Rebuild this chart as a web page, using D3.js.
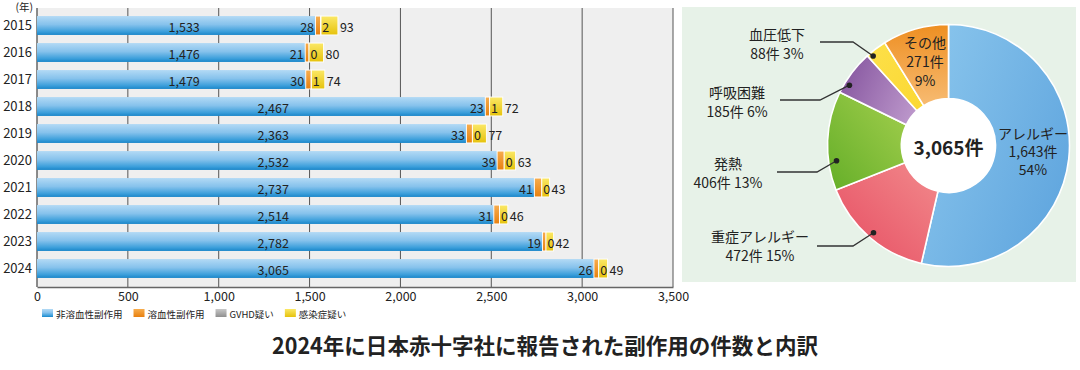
<!DOCTYPE html>
<html><head><meta charset="utf-8">
<script src="https://cdn.jsdelivr.net/npm/d3@7"></script>
<style>
body{margin:0;background:#fff}
svg{display:block}
text{font-family:"Noto Sans CJK JP","Noto Sans",sans-serif;fill:#222}
</style>
</head><body>
<svg id="c" width="1080" height="370"></svg>
<script>
// ---------- data ----------
const years = ["2015","2016","2017","2018","2019","2020","2021","2022","2023","2024"];
const nonHemolytic = [1533,1476,1479,2467,2363,2532,2737,2514,2782,3065];
const hemolytic    = [28,21,30,23,33,39,41,31,19,26];
const gvhd         = [2,0,1,1,0,0,0,0,0,0];
const infection    = [93,80,74,72,77,63,43,46,42,49];
const xTicks = [0,500,1000,1500,2000,2500,3000,3500];
const seriesNames = ["非溶血性副作用","溶血性副作用","GVHD疑い","感染症疑い"];
const yearUnit = "(年)";

const pieCategories = ["アレルギー","重症アレルギー","発熱","呼吸困難","血圧低下","その他"];
const pieCounts   = [1643,472,406,185,88,271];
const piePercents = [54,15,13,6,3,9];
const pieTotal = 3065;
const titleText = "2024年に日本赤十字社に報告された副作用の件数と内訳";

// ---------- setup ----------
const svg = d3.select("#c");
const defs = svg.append("defs");
const fmt = d3.format(",");

function vGrad(id, stops){
  const g = defs.append("linearGradient").attr("id",id).attr("x1",0).attr("y1",0).attr("x2",0).attr("y2",1);
  stops.forEach(s=>g.append("stop").attr("offset",s[0]).attr("stop-color",s[1]));
}
vGrad("gBlue",[[0,"#b3daf5"],[0.45,"#86c2ec"],[0.82,"#3c9fdb"],[1,"#1a86c9"]]);
vGrad("gOrange",[[0,"#f7ad4e"],[1,"#e8800f"]]);
vGrad("gGray",[[0,"#c8c8c8"],[1,"#8f8f8f"]]);
vGrad("gYellow",[[0,"#fbe866"],[1,"#e6c20c"]]);
const segFills = ["url(#gBlue)","url(#gOrange)","url(#gGray)","url(#gYellow)"];

// ---------- bar chart ----------
const plot = {left:37, right:673, top:8, bottom:287};
const x = d3.scaleLinear().domain([0,3500]).range([plot.left, plot.right]);
const y = d3.scaleBand().domain(years).range([12,282]).paddingInner(0.3).paddingOuter(0.15);

svg.append("rect").attr("x",plot.left).attr("y",plot.top)
  .attr("width",plot.right-plot.left).attr("height",plot.bottom-plot.top).attr("fill","#efefef");

// grid
svg.append("g").selectAll("line").data(xTicks.slice(1)).join("line")
  .attr("x1",d=>x(d)).attr("x2",d=>x(d)).attr("y1",plot.top).attr("y2",plot.bottom)
  .attr("stroke","#555").attr("stroke-width",1);

// x axis
const xAxis = svg.append("g").attr("transform",`translate(0,${plot.bottom})`)
  .call(d3.axisBottom(x).tickValues(xTicks).tickFormat(fmt).tickSize(0).tickPadding(5));
xAxis.select(".domain").attr("stroke","#666").attr("stroke-width",1.5);
xAxis.selectAll("text").attr("font-size",12.5).attr("fill","#222")
  .style("font-family",'"Noto Sans CJK JP",sans-serif');

// y axis
const yAxis = svg.append("g").attr("transform",`translate(${plot.left},0)`)
  .call(d3.axisLeft(y).tickSize(0).tickPadding(5));
yAxis.select(".domain").attr("d",`M0,${plot.top}V${plot.bottom}`).attr("stroke","#666").attr("stroke-width",1.5);
yAxis.selectAll("text").attr("font-size",13).attr("fill","#222")
  .style("font-family",'"Noto Sans CJK JP",sans-serif');

svg.append("text").attr("x",33).attr("y",6.5).attr("text-anchor","end")
  .attr("font-size",10.5).attr("dominant-baseline","central").text(yearUnit);

// bars
const rows = years.map((yr,i)=>{
  const vals=[nonHemolytic[i],hemolytic[i],gvhd[i],infection[i]];
  let acc=0; const segs=vals.map((v,k)=>{const s={k,v,x0:acc,x1:acc+v};acc+=v;return s;});
  return {yr,i,vals,segs,total:acc};
});
const barG = svg.append("g");
rows.forEach(r=>{
  const yy=y(r.yr), h=y.bandwidth();
  r.segs.forEach(s=>{
    if(s.v<=0) return;
    barG.append("rect").attr("x",x(s.x0)).attr("y",yy)
      .attr("width",Math.max(0,x(s.x1)-x(s.x0))).attr("height",h)
      .attr("fill",segFills[s.k])
      .attr("stroke",s.k===0?"none":"#fff").attr("stroke-width",0.9);
  });
  const cy = yy+h/2+0.5;
  const anchorVal = r.vals[0] < 2000 ? 810 : 1300;
  barG.append("text").attr("x",x(anchorVal)).attr("y",cy).attr("text-anchor","middle")
    .attr("dominant-baseline","central").attr("font-size",12.5).text(fmt(r.vals[0]));
  barG.append("text").attr("x",x(r.vals[0])-1.5).attr("y",cy).attr("text-anchor","end")
    .attr("dominant-baseline","central").attr("font-size",12.5).text(fmt(r.vals[1]));
  barG.append("text").attr("x",x(r.vals[0]+r.vals[1])+1.5).attr("y",cy).attr("text-anchor","start")
    .attr("dominant-baseline","central").attr("font-size",12.5).text(fmt(r.vals[2]));
  barG.append("text").attr("x",x(r.total)+2).attr("y",cy).attr("text-anchor","start")
    .attr("dominant-baseline","central").attr("font-size",12.5).text(fmt(r.vals[3]));
});

// legend
const leg = svg.append("g");
let lx = 42;
seriesNames.forEach((nm,k)=>{
  leg.append("rect").attr("x",lx).attr("y",309).attr("width",11).attr("height",8).attr("fill",segFills[k]);
  const t = leg.append("text").attr("x",lx+14).attr("y",313.5).attr("dominant-baseline","central")
    .attr("font-size",9.5).attr("fill","#333").text(nm);
  lx += 14 + t.node().getComputedTextLength() + 11;
});

// ---------- pie ----------
svg.append("rect").attr("x",682).attr("y",7).attr("width",394).attr("height",275).attr("fill","#e7f2e8");
const pc = {x:948.5, y:145.5, r:121, ir:47};
const sliceGrads = [
  {c:["#88c4ec","#5fa5de"], d:[0,0.2,1,0.8]},
  {c:["#f28a8c","#e64c61"], d:[1,0,0,1]},
  {c:["#a4cf4e","#64ae28"], d:[1,0,0,1]},
  {c:["#8757a0","#bb96ca"], d:[0,0.3,1,0.7]},
  {c:["#fde04a","#fbd832"], d:[0,0,1,1]},
  {c:["#ee8f22","#f7bb72"], d:[0,0,0,1]}
];
sliceGrads.forEach((g,i)=>{
  const lg = defs.append("linearGradient").attr("id","pg"+i)
    .attr("x1",g.d[0]).attr("y1",g.d[1]).attr("x2",g.d[2]).attr("y2",g.d[3]);
  lg.append("stop").attr("offset",0).attr("stop-color",g.c[0]);
  lg.append("stop").attr("offset",1).attr("stop-color",g.c[1]);
});
const pie = d3.pie().sort(null).value(d=>d)(pieCounts);
const arc = d3.arc().innerRadius(pc.ir).outerRadius(pc.r);
const pg = svg.append("g").attr("transform",`translate(${pc.x},${pc.y})`);
pg.selectAll("path").data(pie).join("path").attr("d",arc)
  .attr("fill",(d,i)=>`url(#pg${i})`).attr("stroke","#fff").attr("stroke-width",1.6);
pg.append("circle").attr("r",pc.ir).attr("fill","#fff");
pg.append("text").attr("text-anchor","middle").attr("dominant-baseline","central").attr("y",1)
  .attr("font-size",19).attr("font-weight",700).text(fmt(pieTotal)+"件");

// labels (layout)
const labelLayout = [
  {x:1033, ys:[133,151,169], inside:true},
  {x:760, ys:[236,255], leader:{x0:817,x1:853,y:246,frac:0.5,r:115}},
  {x:728, ys:[163,182], leader:{x0:777,x1:817,y:172,frac:0.29,r:113}},
  {x:737, ys:[92,111], leader:{x0:780,x1:820,y:100,frac:0.24,r:116}},
  {x:777, ys:[34,53], leader:{x0:820,x1:853,y:42,frac:0.2,r:117}},
  {x:925, ys:[42,61,80], inside:true}
];
const lab = svg.append("g");
pie.forEach((d,i)=>{
  const L = labelLayout[i];
  const lines = L.inside
    ? [pieCategories[i], fmt(pieCounts[i])+"件", piePercents[i]+"%"]
    : [pieCategories[i], fmt(pieCounts[i])+"件 "+piePercents[i]+"%"];
  lines.forEach((t,j)=>{
    lab.append("text").attr("x",L.x).attr("y",L.ys[j]).attr("text-anchor","middle")
      .attr("dominant-baseline","central").attr("font-size",14).text(t);
  });
  if(L.leader){
    const a = d.startAngle + (d.endAngle-d.startAngle)*L.leader.frac;
    const dx = pc.x + Math.sin(a)*L.leader.r, dy = pc.y - Math.cos(a)*L.leader.r;
    lab.append("path").attr("d",`M${L.leader.x0},${L.leader.y}H${L.leader.x1}L${dx},${dy}`)
      .attr("fill","none").attr("stroke","#333").attr("stroke-width",1.3);
    lab.append("circle").attr("cx",dx).attr("cy",dy).attr("r",2.8).attr("fill","#222");
  }
});

// ---------- title ----------
svg.append("text").attr("x",272).attr("y",354).attr("font-size",22).attr("font-weight",700)
  .attr("textLength",546).attr("lengthAdjust","spacingAndGlyphs").attr("fill","#111").text(titleText);
</script>
</body></html>
